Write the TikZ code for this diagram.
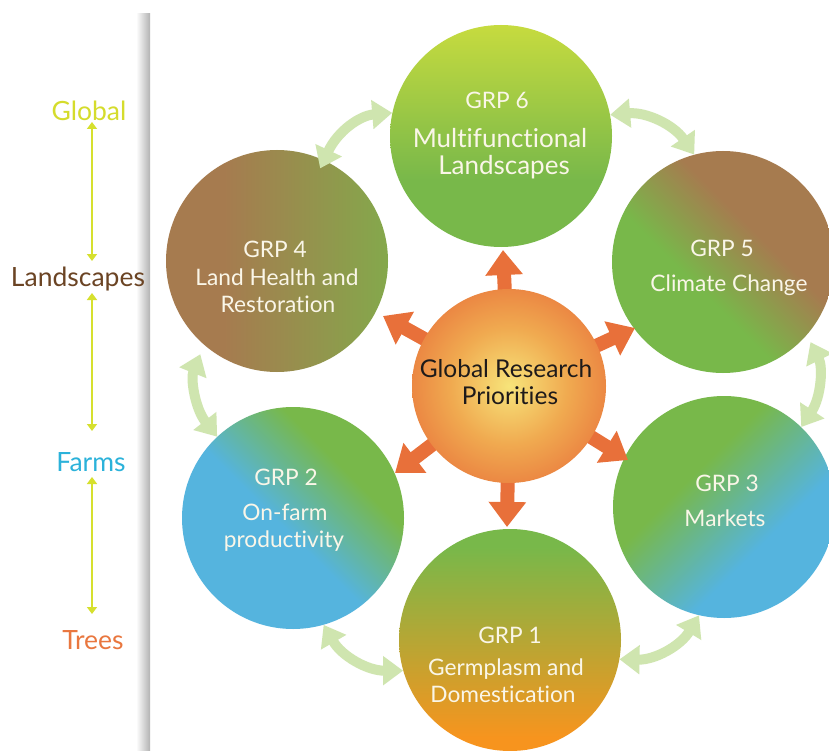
\documentclass[tikz,border=0pt]{standalone}
\usepackage{fontspec}
\setmainfont{Lato}[Ligatures=NoCommon]
\usetikzlibrary{arrows.meta}
\definecolor{cbrown}{RGB}{166,123,79}
\definecolor{cgreen}{RGB}{120,184,74}
\definecolor{cblue}{RGB}{85,180,222}
\definecolor{cyellow}{RGB}{232,234,58}
\definecolor{corangeb}{RGB}{247,148,30}
\definecolor{corange}{RGB}{232,112,58}
\definecolor{cyel}{RGB}{247,228,122}
\definecolor{cmidor}{RGB}{240,170,80}
\definecolor{cgarrow}{RGB}{207,229,175}
\definecolor{ctext}{RGB}{250,246,232}
\definecolor{cdark}{RGB}{30,26,26}
\definecolor{cglobal}{RGB}{213,220,44}
\definecolor{cland}{RGB}{107,68,36}
\definecolor{cfarm}{RGB}{43,178,218}
\definecolor{ctree}{RGB}{233,119,63}
\definecolor{cvline}{RGB}{214,224,46}
\pgfdeclareverticalshading{shsix}{100bp}{color(0bp)=(cgreen); color(40bp)=(cgreen); color(90bp)=(cyellow); color(100bp)=(cyellow)}
\pgfdeclareverticalshading{shfour}{100bp}{color(0bp)=(cgreen); color(12bp)=(cgreen); color(62bp)=(cbrown); color(100bp)=(cbrown)}
\pgfdeclareverticalshading{shfive}{100bp}{color(0bp)=(cgreen); color(42bp)=(cgreen); color(60bp)=(cbrown); color(100bp)=(cbrown)}
\pgfdeclareverticalshading{shtwo}{100bp}{color(0bp)=(cblue); color(47bp)=(cblue); color(66bp)=(cgreen); color(100bp)=(cgreen)}
\pgfdeclareverticalshading{shthree}{100bp}{color(0bp)=(cblue); color(38bp)=(cblue); color(60bp)=(cgreen); color(100bp)=(cgreen)}
\pgfdeclareverticalshading{shone}{100bp}{color(0bp)=(corangeb); color(28bp)=(corangeb); color(71bp)=(cgreen); color(100bp)=(cgreen)}
\pgfdeclareradialshading{shctr}{\pgfpoint{0bp}{0bp}}{color(0bp)=(cyel); color(15bp)=(cmidor); color(32bp)=(corange); color(50bp)=(corange)}
\begin{document}
\begin{tikzpicture}[x=1pt,y=-1pt,
  circ/.style={circle, inner sep=0pt, minimum size=222pt, shade},
  gt/.style={text=ctext, font=\fontsize{22.7}{27}\selectfont, anchor=base, inner sep=0pt},
  gtb/.style={text=ctext, font=\fontsize{26}{30}\selectfont, anchor=base, inner sep=0pt},
  ct/.style={text=cdark, font=\fontsize{24.5}{29}\selectfont, anchor=base, inner sep=0pt},
  side/.style={font=\fontsize{26.5}{31}\selectfont, anchor=base, inner sep=0pt},
  vline/.style={draw=cvline, line width=1.5pt, {Triangle[length=7pt,width=10pt]}-{Triangle[length=7pt,width=10pt]}},
  garrow/.style={draw=cgarrow, line width=10pt, {Triangle[length=20pt,width=28pt]}-{Triangle[length=20pt,width=28pt]}},
  oarrow/.style={draw=corange, line width=14pt, -{Triangle[length=25pt,width=36pt]}}]
\clip (0,0) rectangle (829,751);
\fill[white] (0,0) rectangle (829,751);
\shade[left color=white, right color=black!30] (136,14) rectangle (150,751);
% side scale
\node[side, text=cglobal] (sglob) at (89,121) {Global};
\node[side, text=cland] (sland) at (78,286) {Landscapes};
\node[side, text=cfarm] (sfarm) at (91,471) {Farms};
\node[side, text=ctree] (stree) at (93,649) {Trees};
\coordinate (v1a) at (92,122); \coordinate (v1b) at (92,261);
\coordinate (v2a) at (92,293); \coordinate (v2b) at (92,431);
\coordinate (v3a) at (92,477); \coordinate (v3b) at (92,614);
\draw[vline] (v1a) -- (v1b);
\draw[vline] (v2a) -- (v2b);
\draw[vline] (v3a) -- (v3b);
% circles
\node[circ, shading=shsix] (g6) at (501,136) {};
\node[circ, shading=shfour, shading angle=90] (g4) at (277,261) {};
\node[circ, shading=shfive, shading angle=-45] (g5) at (723,262) {};
\node[circ, shading=shtwo, shading angle=-45] (g2) at (293,518) {};
\node[circ, shading=shthree, shading angle=45] (g3) at (724,507) {};
\node[circ, shading=shone] (g1) at (510,640) {};
% texts
\node[gt] (t6a) at (497,109) {GRP 6};
\node[gtb] (t6b) at (500,148) {Multifunctional};
\node[gtb] (t6c) at (504,175) {Landscapes};
\node[gt] (t4a) at (275,258) {GRP 4};
\node[gt] (t4b) at (277,285) {Land Health and};
\node[gt] (t4c) at (278,312) {Restoration};
\node[gt] (t5a) at (722,256) {GRP 5};
\node[gt] (t5b) at (729,291) {Climate Change};
\node[gt] (t2a) at (286,485) {GRP 2};
\node[gt] (t2b) at (285,520) {On-farm};
\node[gt] (t2c) at (284,547) {productivity};
\node[gt] (t3a) at (727,491) {GRP 3};
\node[gt] (t3b) at (725,526) {Markets};
\node[gt] (t1a) at (510,643) {GRP 1};
\node[gt] (t1b) at (506,675) {Germplasm and};
\node[gt] (t1c) at (503,702) {Domestication};
% green double arrows
\draw[garrow, shorten <=-9pt] (g4.65) to[bend left=30] (g6.168);
\draw[garrow] (g6.11) to[bend left=30] (g5.105);
\draw[garrow, shorten <=10pt] (g4.229) to[bend right=30] (g2.133);
\draw[garrow, shorten <=8pt] (g5.-41) to[bend left=30] (g3.46);
\draw[garrow] (g2.-74) to[bend right=30] (g1.196);
\draw[garrow] (g1.-10) to[bend right=30] (g3.-103);
% center
\coordinate (c0) at (509,386);
\coordinate (o6) at (503,250);
\coordinate (o4) at (383,316);
\coordinate (o5) at (635,328);
\coordinate (o2) at (395,473);
\coordinate (o3) at (628,460);
\coordinate (o1) at (507,527);
\foreach \t in {o6,o4,o5,o2,o3,o1} \draw[oarrow] (c0) -- (\t);
\node[circle, inner sep=0pt, minimum size=194pt, shade, shading=shctr] (ctr) at (c0) {};
\node[ct] (ctra) at (506,377) {Global Research};
\node[ct] (ctrb) at (510,404) {Priorities};
\end{tikzpicture}
\end{document}
